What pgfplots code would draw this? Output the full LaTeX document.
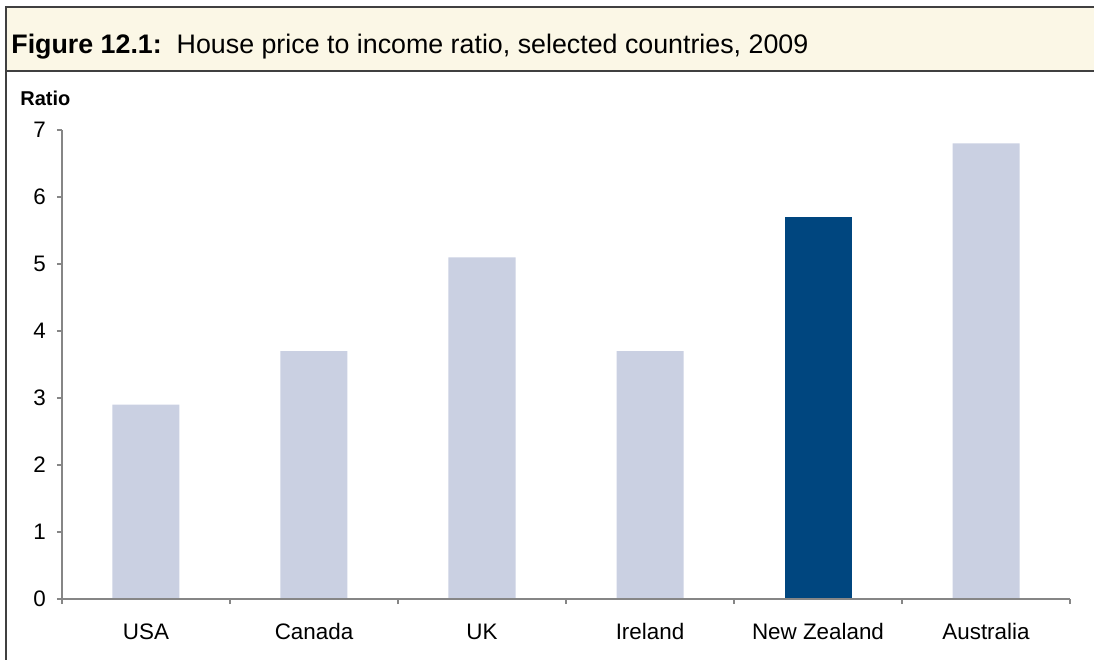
\documentclass[border=0pt]{standalone}
\usepackage{pgfplots}
\pgfplotsset{compat=1.18}
\usepackage{fontspec}
\setmainfont{Liberation Sans}
\definecolor{barlight}{HTML}{CAD0E2}
\definecolor{bardark}{HTML}{00467F}
\definecolor{hdr}{HTML}{FBF7E6}
\definecolor{framec}{HTML}{404040}
\definecolor{axgray}{HTML}{868686}
\begin{document}
\begin{tikzpicture}[x=0.5pt,y=0.5pt]
\useasboundingbox (0,0) rectangle (1094,660);
\fill[hdr] (6,589) rectangle (1094,653);
\draw[framec, line width=1pt] (1094,653) -- (5.5,653) -- (5.5,0);
\draw[framec, line width=1pt] (5.5,589) -- (1094,589);
\node[anchor=base west, inner sep=0pt, font=\fontsize{13.4}{15}\selectfont] at (11,606) {\textbf{Figure 12.1:}\ \ House price to income ratio, selected countries, 2009};
\node[anchor=base west, inner sep=0pt, font=\bfseries\fontsize{10}{12}\selectfont] at (20,554) {Ratio};
\begin{axis}[
  at={(31pt,30.5pt)}, anchor=south west,
  scale only axis, width=504pt, height=234.5pt,
  xmin=-0.5, xmax=5.5, ymin=0, ymax=7,
  axis lines*=left,
  axis line style={axgray, line width=0.8pt, -},
  axis on top,
  ybar, bar width=33.5pt, bar shift=0pt,
  xtick={0,...,5},
  xticklabels={USA,Canada,UK,Ireland,New Zealand,Australia},
  major x tick style={draw=none},
  minor xtick={-0.5,0.5,...,5.5},
  ytick={0,...,7},
  tick align=outside,
  major tick length=2.5pt, minor tick length=2.5pt,
  tick style={axgray, line width=0.6pt},
  /pgf/number format/assume math mode=true,
  tick label style={font=\fontsize{11.2}{13}\selectfont, text=black},
  xticklabel style={yshift=-6.5pt, text height=0.75em, text depth=0.2em},
  yticklabel style={xshift=-2pt},
]
\addplot[fill=barlight, draw=none] coordinates {(0,2.9) (1,3.7) (2,5.1) (3,3.7) (5,6.8)};
\addplot[fill=bardark, draw=none] coordinates {(4,5.7)};
\end{axis}
\end{tikzpicture}
\end{document}
